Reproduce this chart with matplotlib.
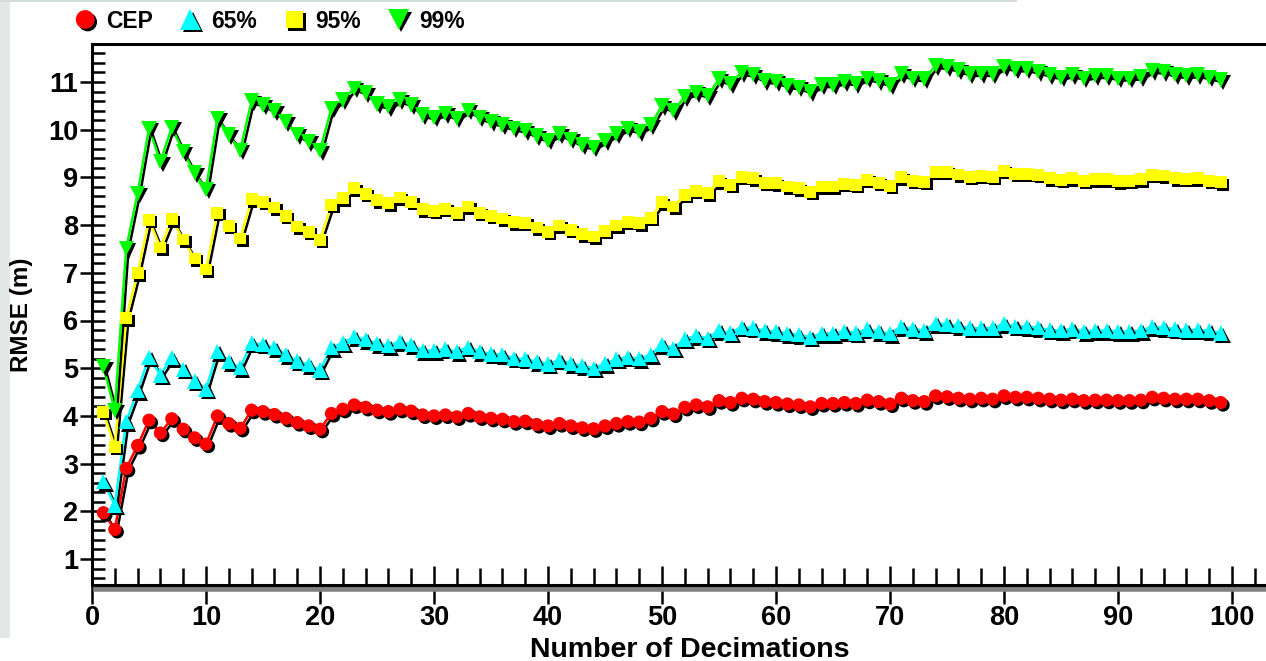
import matplotlib
matplotlib.use("Agg")
import matplotlib.pyplot as plt
import matplotlib.patheffects as pe
from matplotlib.lines import Line2D
from matplotlib.patches import Rectangle
from matplotlib.ticker import MultipleLocator

decimations = list(range(1, 100))

cep = [1.97, 1.62, 2.90, 3.38, 3.91, 3.64, 3.94, 3.72, 3.54, 3.41,
       4.00, 3.84, 3.74, 4.12, 4.09, 4.03, 3.95, 3.86, 3.79, 3.72,
       4.05, 4.14, 4.23, 4.18, 4.12, 4.09, 4.14, 4.10, 4.02, 4.00,
       4.02, 3.98, 4.05, 3.98, 3.95, 3.93, 3.88, 3.89, 3.82, 3.79,
       3.84, 3.79, 3.75, 3.73, 3.79, 3.84, 3.88, 3.87, 3.95, 4.09,
       4.04, 4.18, 4.23, 4.19, 4.32, 4.28, 4.37, 4.35, 4.30, 4.28,
       4.25, 4.23, 4.19, 4.26, 4.26, 4.28, 4.26, 4.33, 4.30, 4.25,
       4.37, 4.32, 4.30, 4.42, 4.40, 4.37, 4.35, 4.37, 4.35, 4.42,
       4.39, 4.39, 4.37, 4.35, 4.33, 4.35, 4.32, 4.33, 4.33, 4.32,
       4.32, 4.33, 4.39, 4.37, 4.35, 4.35, 4.35, 4.32, 4.28]

p65 = [2.62, 2.13, 3.88, 4.53, 5.23, 4.86, 5.22, 4.98, 4.73, 4.56,
       5.35, 5.14, 5.01, 5.53, 5.50, 5.43, 5.29, 5.15, 5.07, 4.96,
       5.43, 5.53, 5.66, 5.60, 5.52, 5.47, 5.56, 5.49, 5.37, 5.37,
       5.40, 5.35, 5.44, 5.35, 5.30, 5.28, 5.21, 5.19, 5.14, 5.09,
       5.17, 5.10, 5.05, 5.00, 5.10, 5.19, 5.23, 5.20, 5.28, 5.49,
       5.42, 5.61, 5.68, 5.63, 5.79, 5.74, 5.86, 5.84, 5.79, 5.77,
       5.73, 5.70, 5.65, 5.73, 5.73, 5.77, 5.74, 5.82, 5.77, 5.72,
       5.87, 5.82, 5.79, 5.94, 5.92, 5.89, 5.84, 5.84, 5.84, 5.93,
       5.88, 5.87, 5.85, 5.80, 5.79, 5.82, 5.77, 5.79, 5.79, 5.77,
       5.77, 5.79, 5.87, 5.85, 5.82, 5.80, 5.80, 5.79, 5.74]

p95 = [4.08, 3.35, 6.05, 6.99, 8.11, 7.53, 8.12, 7.70, 7.30, 7.07,
       8.26, 7.98, 7.72, 8.54, 8.49, 8.37, 8.19, 7.97, 7.86, 7.69,
       8.42, 8.56, 8.77, 8.66, 8.52, 8.46, 8.58, 8.49, 8.33, 8.30,
       8.34, 8.26, 8.39, 8.26, 8.19, 8.14, 8.06, 8.05, 7.95, 7.86,
       7.99, 7.90, 7.81, 7.76, 7.88, 7.99, 8.07, 8.04, 8.15, 8.48,
       8.39, 8.63, 8.72, 8.67, 8.92, 8.84, 9.01, 8.98, 8.89, 8.88,
       8.81, 8.77, 8.70, 8.81, 8.81, 8.86, 8.84, 8.95, 8.89, 8.82,
       9.00, 8.93, 8.91, 9.12, 9.12, 9.06, 9.01, 9.03, 9.01, 9.14,
       9.07, 9.07, 9.05, 8.98, 8.95, 8.98, 8.93, 8.96, 8.96, 8.92,
       8.93, 8.96, 9.05, 9.04, 8.98, 8.97, 8.98, 8.93, 8.90]

p99 = [5.03, 4.12, 7.51, 8.67, 10.03, 9.33, 10.05, 9.54, 9.09, 8.75,
       10.24, 9.89, 9.57, 10.60, 10.52, 10.39, 10.16, 9.90, 9.75, 9.56,
       10.45, 10.62, 10.87, 10.77, 10.54, 10.48, 10.62, 10.52, 10.31, 10.26,
       10.34, 10.24, 10.41, 10.26, 10.17, 10.10, 10.03, 9.98, 9.87, 9.78,
       9.91, 9.80, 9.68, 9.63, 9.77, 9.91, 10.03, 9.96, 10.10, 10.50,
       10.40, 10.69, 10.78, 10.71, 11.06, 10.97, 11.20, 11.15, 11.03, 11.01,
       10.92, 10.89, 10.80, 10.94, 10.94, 11.01, 10.97, 11.08, 11.03, 10.94,
       11.17, 11.08, 11.06, 11.34, 11.32, 11.25, 11.17, 11.18, 11.17, 11.32,
       11.27, 11.27, 11.22, 11.15, 11.10, 11.15, 11.08, 11.13, 11.13, 11.08,
       11.08, 11.11, 11.24, 11.22, 11.15, 11.13, 11.15, 11.10, 11.04]

labels = ["CEP", "65%", "95%", "99%"]
series = [cep, p65, p95, p99]
colors = ["#ff0000", "#00ffff", "#ffff00", "#00ff00"]
markers = ["o", "^", "s", "v"]
msizes = [9.5, 11, 8.5, 11]

plt.rcParams['font.family'] = ['Liberation Sans', 'DejaVu Sans']
plt.rcParams['font.weight'] = 'bold'

W, H = 1266, 661
fig = plt.figure(figsize=(W / 100, H / 100), dpi=100)
fig.patch.set_facecolor("white")
# light grey strip at left edge and top edge
fig.add_artist(Rectangle((0, 0.035), 10 / W, 0.965, transform=fig.transFigure,
                         facecolor="#e3e8e6", edgecolor="none", zorder=0))
fig.add_artist(Rectangle((0, 1 - 2 / H), 1017 / W, 2 / H, transform=fig.transFigure,
                         facecolor="#d3dcd8", edgecolor="none", zorder=0))

left, right, bottom, top = 92, 1266, 585, 44
ax = fig.add_axes([left / W, (H - bottom) / H, (right - left) / W, (bottom - top) / H])
ax.set_facecolor("white")

line_fx = [pe.SimpleLineShadow(offset=(1.6, -1.6), shadow_color="black", alpha=1.0), pe.Normal()]
mark_fx = [pe.SimplePatchShadow(offset=(1.8, -1.8), shadow_rgbFace="black", alpha=1.0), pe.Normal()]

for vals, c, m, ms in zip(series, colors, markers, msizes):
    ax.plot(decimations, vals, color=c, lw=1.8, path_effects=line_fx, zorder=3,
            clip_on=False)
    ax.plot(decimations, vals, ls="none", marker=m, ms=ms, markerfacecolor=c,
            markeredgewidth=0, path_effects=mark_fx, zorder=4, clip_on=False)

ax.set_xlim(0, (right - left) / 11.4)
ax.set_ylim(1 - (bottom - 559) / 47.7, 1 + (559 - top) / 47.7)

ax.xaxis.set_major_locator(MultipleLocator(10))
ax.xaxis.set_minor_locator(MultipleLocator(2))
ax.yaxis.set_major_locator(MultipleLocator(1))
ax.yaxis.set_minor_locator(MultipleLocator(0.2))

ax.tick_params(axis="x", which="major", direction="inout", length=27, width=1.8, pad=1,
               labelsize=19.5)
ax.tick_params(axis="x", which="minor", direction="in", length=12.5, width=1.8)
ax.tick_params(axis="y", which="major", direction="inout", length=18, width=1.8, pad=1,
               labelsize=19.5)
ax.tick_params(axis="y", which="minor", direction="in", length=9.5, width=1.8)

ax.set_xticks([0, 10, 20, 30, 40, 50, 60, 70, 80, 90, 100])
ax.set_yticks([1, 2, 3, 4, 5, 6, 7, 8, 9, 10, 11])
for lab in ax.get_xticklabels() + ax.get_yticklabels():
    lab.set_fontweight("bold")

for s in ["left", "top", "bottom"]:
    ax.spines[s].set_linewidth(2.2)
    ax.spines[s].set_color("black")
ax.spines["right"].set_visible(False)
ax.spines["bottom"].set_path_effects([
    pe.SimpleLineShadow(offset=(3, -3), shadow_color="#808080", alpha=1.0, linewidth=4),
    pe.Normal()])

ax.set_xlabel("Number of Decimations", fontsize=20.5, fontweight="bold")
ax.xaxis.set_label_coords((690 - left) / (right - left), (bottom - 637) / (bottom - top))
ax.set_ylabel("RMSE (m)", fontsize=17.5, fontweight="bold")
ax.yaxis.set_label_coords((33 - left) / (right - left), 0.5)

handles = [Line2D([], [], ls="none", marker=m, ms=ms + 4, markerfacecolor=c,
                  markeredgewidth=0, path_effects=mark_fx)
           for c, m, ms in zip(colors, markers, msizes)]
fig.legend(handles, labels, loc="center left", bbox_to_anchor=(76 / W, 1 - 21 / H),
           ncol=4, frameon=False, handlelength=0.8, handletextpad=0.5,
           columnspacing=1.25, borderpad=0, borderaxespad=0,
           prop={"weight": "bold", "size": 16.5})

fig.savefig("out.png", dpi=100, facecolor="white")
